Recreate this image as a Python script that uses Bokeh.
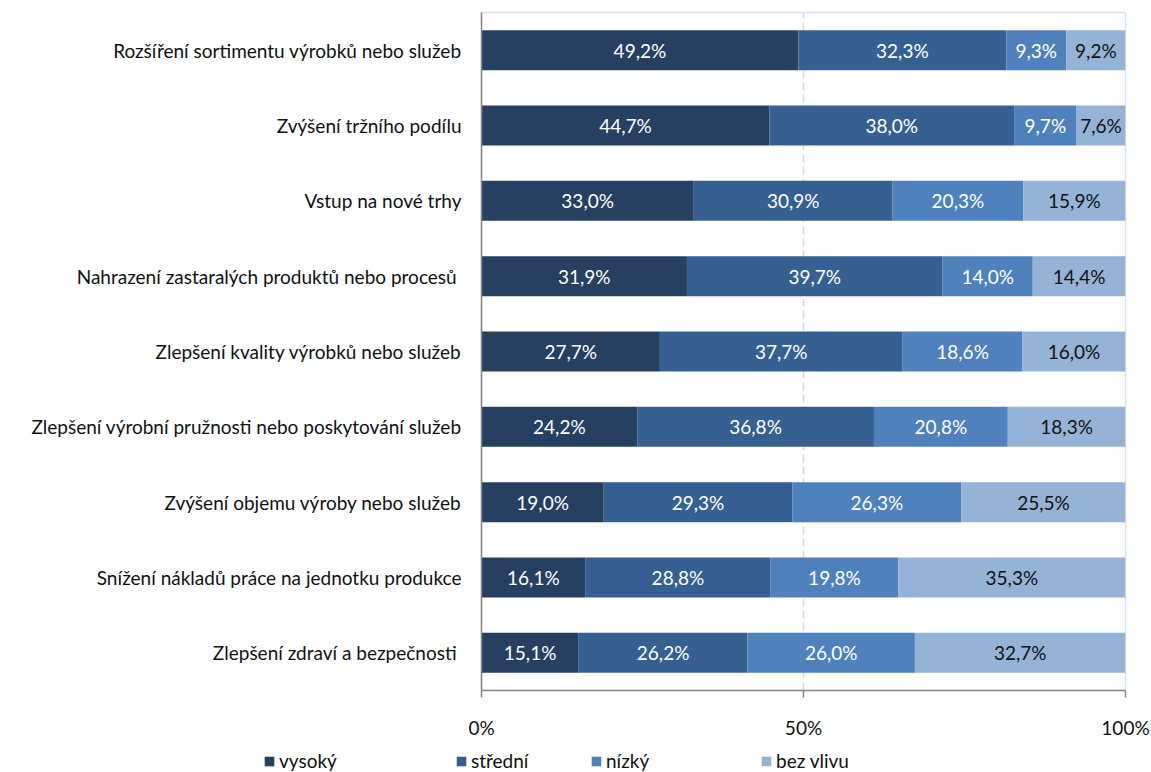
from bokeh.plotting import figure
from bokeh.models import (Range1d, FactorRange, FixedTicker, Legend, LegendItem,
                          ColumnDataSource)
from bokeh.core.properties import value
from bokeh.embed import file_html
from bokeh.resources import INLINE

categories = [
    "Rozšíření sortimentu výrobků nebo služeb",
    "Zvýšení tržního podílu",
    "Vstup na nové trhy",
    "Nahrazení zastaralých produktů nebo procesů ",
    "Zlepšení kvality výrobků nebo služeb",
    "Zlepšení výrobní pružnosti nebo poskytování služeb",
    "Zvýšení objemu výroby nebo služeb",
    "Snížení nákladů práce na jednotku produkce",
    "Zlepšení zdraví a bezpečnosti ",
]
series_names = ["vysoký", "střední", "nízký", "bez vlivu"]
vysoky = [49.2, 44.7, 33.0, 31.9, 27.7, 24.2, 19.0, 16.1, 15.1]
stredni = [32.3, 38.0, 30.9, 39.7, 37.7, 36.8, 29.3, 28.8, 26.2]
nizky = [9.3, 9.7, 20.3, 14.0, 18.6, 20.8, 26.3, 19.8, 26.0]
bez_vlivu = [9.2, 7.6, 15.9, 14.4, 16.0, 18.3, 25.5, 35.3, 32.7]
tick_values = [0, 50, 100]
tick_labels = ["0%", "50%", "100%"]

colors = ["#264061", "#376092", "#4F81BD", "#95B3D7"]
label_colors = ["white", "white", "white", "#111111"]
FONT = "Lato"
FS = "19px"

series = [vysoky, stredni, nizky, bez_vlivu]
totals = [sum(v) for v in zip(*series)]

p = figure(width=1151, height=748, output_backend="svg", toolbar_location=None,
           y_range=FactorRange(*list(reversed(categories)), range_padding=0),
           x_range=Range1d(0, 100),
           min_border_left=481, min_border_right=26, min_border_top=12,
           min_border_bottom=58)

p.outline_line_color = "#D6E1EF"
p.outline_line_width = 1.5
p.ygrid.visible = False
p.xgrid.ticker = FixedTicker(ticks=[50])
p.xgrid.grid_line_color = "#CCDAEB"
p.xgrid.grid_line_dash = "8 4"
p.xgrid.grid_line_width = 1.5

left = [0.0] * len(categories)
for name, vals, col, lcol in zip(series_names, series, colors, label_colors):
    lefts = list(left)
    rights = [l + v * 100.0 / t for l, v, t in zip(lefts, vals, totals)]
    mids = [(a + b) / 2 for a, b in zip(lefts, rights)]
    texts = [("%.1f%%" % v).replace(".", ",") for v in vals]
    src = ColumnDataSource(dict(y=categories, left=lefts, right=rights, mid=mids, txt=texts))
    p.hbar(y="y", left="left", right="right", height=0.53, source=src,
           fill_color=col, line_color=None)
    p.text(x="mid", y="y", text="txt", source=src, text_align="center",
           text_baseline="middle", text_color=lcol, text_font=value(FONT),
           text_font_size=FS)
    left = rights

# axes
xa = p.xaxis[0]
xa.ticker = FixedTicker(ticks=tick_values)
xa.major_label_overrides = {t: l for t, l in zip(tick_values, tick_labels)}
xa.axis_line_color = "#868686"
xa.axis_line_width = 1.5
xa.major_tick_line_color = "#868686"
xa.major_tick_line_width = 1.5
xa.major_tick_in = 0
xa.major_tick_out = 7
xa.minor_tick_line_color = None
xa.major_label_standoff = 18
xa.major_label_text_font = FONT
xa.major_label_text_font_size = FS
xa.major_label_text_color = "#111111"

ya = p.yaxis[0]
ya.axis_line_color = "#868686"
ya.axis_line_width = 1.5
ya.major_tick_line_color = None
ya.major_tick_out = 0
ya.major_tick_in = 0
ya.major_label_standoff = 20
ya.major_label_text_font = FONT
ya.major_label_text_font_size = FS
ya.major_label_text_color = "#111111"

# legend strip below the chart (separate root, frame covers whole strip)
lf = figure(width=1151, height=24, output_backend="svg", toolbar_location=None,
            x_range=Range1d(0, 1151), y_range=Range1d(0, 24),
            x_axis_location=None, y_axis_location=None,
            min_border=0, min_border_left=0, min_border_right=0,
            min_border_top=0, min_border_bottom=0)
lf.grid.visible = False
lf.outline_line_color = None
legend_x = [263, 455, 590, 760]
for name, col, lx in zip(series_names, colors, legend_x):
    # swatch renderer placed outside the visible range; only its legend glyph shows
    r = lf.hbar(y=[-50], left=[0], right=[1], height=1, fill_color=col, line_color=None)
    lg = Legend(items=[LegendItem(label=name, renderers=[r])], location=(lx, 0),
                orientation="horizontal", padding=0, margin=0, spacing=0,
                glyph_width=12, glyph_height=12, label_standoff=4,
                label_height=20, label_text_font=FONT, label_text_font_size=FS,
                label_text_color="#111111", border_line_color=None,
                background_fill_alpha=0)
    lf.add_layout(lg)

open("out.html", "w").write(file_html([p, lf], INLINE))
